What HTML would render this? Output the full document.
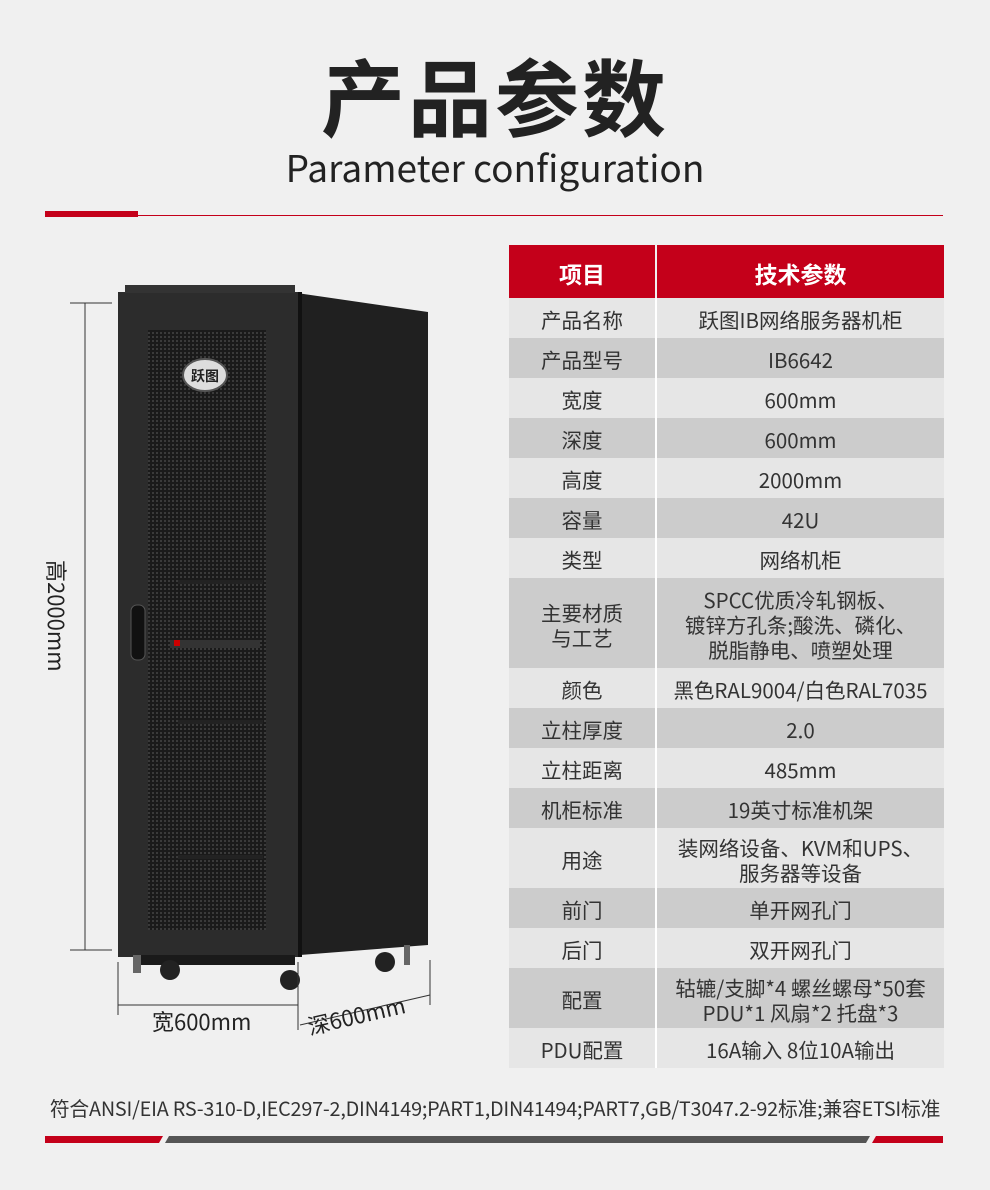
<!DOCTYPE html>
<html><head><meta charset="utf-8"><style>
body{margin:0;width:990px;height:1190px;background:#f0f0f0;position:relative;overflow:hidden;font-family:"Noto Sans CJK SC","Liberation Sans",sans-serif;color:#333}
.a{position:absolute}
.t{position:absolute;left:509px;width:435px;top:245px}
.r{display:flex;height:40px;align-items:center;font-size:20.5px;color:#333}
.r div{height:100%;display:flex;align-items:center;justify-content:center;text-align:center;line-height:1.22;padding-top:3px;box-sizing:border-box}
.r .k{width:148px;border-right:2px solid #fff}
.r .v{flex:1}
.l{background:#e6e6e6}.d{background:#cccccc}
</style></head><body>
<div class="a" style="left:0;width:990px;top:40px;text-align:center;font-size:84px;font-weight:bold;color:#222;font-family:'Noto Sans CJK SC',sans-serif;letter-spacing:3px;line-height:110px">产品参数</div>
<div class="a" style="left:0;width:990px;top:141px;text-align:center;font-size:37px;color:#222;line-height:50px;font-family:'Noto Sans CJK SC','Liberation Sans',sans-serif">Parameter configuration</div>
<div class="a" style="left:45px;top:215px;width:898px;height:1px;background:#c4001a"></div>
<div class="a" style="left:45px;top:211px;width:93px;height:6px;background:#c4001a"></div>

<div class="t">
<div class="r" style="height:53px;background:#c4001a;color:#fff;font-weight:bold;font-size:23px"><div class="k" style="border-color:#f0f0f0">项目</div><div class="v">技术参数</div></div>
<div class="r l"><div class="k">产品名称</div><div class="v">跃图IB网络服务器机柜</div></div>
<div class="r d"><div class="k">产品型号</div><div class="v">IB6642</div></div>
<div class="r l"><div class="k">宽度</div><div class="v">600mm</div></div>
<div class="r d"><div class="k">深度</div><div class="v">600mm</div></div>
<div class="r l"><div class="k">高度</div><div class="v">2000mm</div></div>
<div class="r d"><div class="k">容量</div><div class="v">42U</div></div>
<div class="r l"><div class="k">类型</div><div class="v">网络机柜</div></div>
<div class="r d" style="height:90px"><div class="k">主要材质<br>与工艺</div><div class="v">SPCC优质冷轧钢板、<br>镀锌方孔条;酸洗、磷化、<br>脱脂静电、喷塑处理</div></div>
<div class="r l"><div class="k">颜色</div><div class="v">黑色RAL9004/白色RAL7035</div></div>
<div class="r d"><div class="k">立柱厚度</div><div class="v">2.0</div></div>
<div class="r l"><div class="k">立柱距离</div><div class="v">485mm</div></div>
<div class="r d"><div class="k">机柜标准</div><div class="v">19英寸标准机架</div></div>
<div class="r l" style="height:60px"><div class="k">用途</div><div class="v">装网络设备、KVM和UPS、<br>服务器等设备</div></div>
<div class="r d"><div class="k">前门</div><div class="v">单开网孔门</div></div>
<div class="r l"><div class="k">后门</div><div class="v">双开网孔门</div></div>
<div class="r d" style="height:60px"><div class="k">配置</div><div class="v">轱辘/支脚*4 螺丝螺母*50套<br>PDU*1 风扇*2 托盘*3</div></div>
<div class="r l"><div class="k">PDU配置</div><div class="v">16A输入 8位10A输出</div></div>
</div>

<svg class="a" style="left:0;top:270px" width="500" height="780" viewBox="0 270 500 780">
<defs><pattern id="m" width="4" height="4" patternUnits="userSpaceOnUse"><rect width="4" height="4" fill="#1a1a1a"/><rect width="2" height="2" fill="#3a3a3a"/></pattern></defs>
<line x1="85" y1="303" x2="85" y2="950" stroke="#333"/>
<line x1="70" y1="303" x2="112" y2="303" stroke="#333"/>
<line x1="70" y1="950" x2="112" y2="950" stroke="#333"/>
<text x="0" y="0" font-size="22" fill="#222" transform="translate(48,560) rotate(90)" font-family="Noto Sans CJK SC,sans-serif">高2000mm</text>
<polygon points="290,292 428,312 428,945 300,955" fill="#202020"/>
<rect x="296" y="292" width="6" height="665" fill="#111"/>
<rect x="118" y="292" width="180" height="665" fill="#2c2c2c"/>
<rect x="148" y="330" width="118" height="600" fill="url(#m)"/>
<rect x="178" y="580" width="85" height="4" fill="#222"/>
<rect x="178" y="720" width="85" height="4" fill="#222"/>
<rect x="178" y="855" width="85" height="4" fill="#222"/>
<rect x="170" y="640" width="90" height="8" fill="#333"/>
<rect x="174" y="640" width="6" height="6" fill="#c00"/>
<ellipse cx="205" cy="375" rx="22" ry="16" fill="#ddd" stroke="#555" stroke-width="2"/>
<text x="205" y="381" font-size="14" font-weight="bold" text-anchor="middle" fill="#222" font-family="Noto Sans CJK SC,sans-serif">跃图</text>
<rect x="131" y="605" width="14" height="55" rx="6" fill="#111" stroke="#555"/>
<rect x="125" y="285" width="170" height="8" fill="#333"/>
<rect x="135" y="955" width="160" height="10" fill="#1a1a1a"/>
<circle cx="170" cy="970" r="10" fill="#222"/><circle cx="290" cy="980" r="10" fill="#222"/><circle cx="385" cy="962" r="10" fill="#222"/>
<rect x="133" y="955" width="8" height="18" fill="#666"/><rect x="404" y="945" width="6" height="20" fill="#666"/>
<line x1="118" y1="962" x2="118" y2="1015" stroke="#333"/>
<line x1="298" y1="962" x2="298" y2="1030" stroke="#333"/>
<line x1="118" y1="1005" x2="298" y2="1005" stroke="#333"/>
<line x1="300" y1="1025" x2="430" y2="995" stroke="#333"/>
<line x1="430" y1="960" x2="430" y2="1005" stroke="#333"/>
<text x="152" y="1030" font-size="22" fill="#222" font-family="Noto Sans CJK SC,sans-serif">宽600mm</text>
<text x="0" y="0" font-size="22" fill="#222" transform="translate(310,1035) rotate(-13)" font-family="Noto Sans CJK SC,sans-serif">深600mm</text>
</svg>

<div class="a" style="left:0;width:990px;top:1093px;text-align:center;font-size:19.8px;color:#333;white-space:nowrap;letter-spacing:-0.2px">符合ANSI/EIA RS-310-D,IEC297-2,DIN4149;PART1,DIN41494;PART7,GB/T3047.2-92标准;兼容ETSI标准</div>
<svg class="a" style="left:0;top:1136px" width="990" height="8">
<polygon points="45,0 163,0 159,7 45,7" fill="#c4001a"/>
<polygon points="169,0 870,0 866,7 165,7" fill="#555"/>
<polygon points="876,0 943,0 943,7 872,7" fill="#c4001a"/>
</svg>
</body></html>
